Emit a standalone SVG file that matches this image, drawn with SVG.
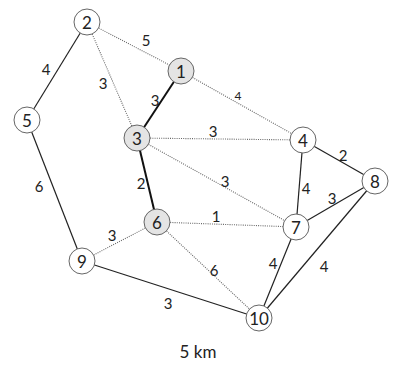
<svg xmlns="http://www.w3.org/2000/svg" width="398" height="372" viewBox="0 0 398 372">
<style>
.s{stroke:#222;stroke-width:1.2;fill:none}
.b{stroke:#111;stroke-width:2;fill:none}
.d{stroke:#666;stroke-width:1.1;stroke-dasharray:1 1.2;fill:none}
.n circle{fill:#fff;stroke:#666;stroke-width:1}
.g circle{fill:#e4e4e4}
text{font-family:Lato,"DejaVu Sans",sans-serif;fill:#222;text-anchor:middle;dominant-baseline:central}
.n text{font-size:17px}
.l{font-size:15px}
</style>
<rect width="398" height="372" fill="#fff"/>
<g id="connectors">
<line class="s" x1="87" y1="22" x2="27" y2="120"/>
<line class="s" x1="27" y1="120" x2="82" y2="261"/>
<line class="b" x1="181" y1="71" x2="137" y2="138"/>
<line class="b" x1="137" y1="138" x2="157" y2="222"/>
<line class="s" x1="82" y1="261" x2="259" y2="318"/>
<line class="s" x1="303" y1="140" x2="375" y2="181"/>
<line class="s" x1="303" y1="140" x2="296" y2="227"/>
<line class="s" x1="296" y1="227" x2="375" y2="181"/>
<line class="s" x1="375" y1="181" x2="259" y2="318"/>
<line class="s" x1="296" y1="227" x2="259" y2="318"/>
<line class="d" x1="87" y1="22" x2="181" y2="71"/>
<line class="d" x1="87" y1="22" x2="137" y2="138"/>
<line class="d" x1="181" y1="71" x2="303" y2="140"/>
<line class="d" x1="137" y1="138" x2="303" y2="140"/>
<line class="d" x1="137" y1="138" x2="296" y2="227"/>
<line class="d" x1="157" y1="222" x2="296" y2="227"/>
<line class="d" x1="157" y1="222" x2="82" y2="261"/>
<line class="d" x1="157" y1="222" x2="259" y2="318"/>
<text class="l" x="146" y="40">5</text>
<text class="l" x="46" y="69">4</text>
<text class="l" x="103" y="83">3</text>
<text class="l" x="155" y="100">3</text>
<text class="l" x="238" y="95" style="font-size:12px">4</text>
<text class="l" x="213" y="131">3</text>
<text class="l" x="225" y="181">3</text>
<text class="l" x="39" y="186">6</text>
<text class="l" x="141" y="183">2</text>
<text class="l" x="216" y="216">1</text>
<text class="l" x="112" y="235">3</text>
<text class="l" x="214" y="270">6</text>
<text class="l" x="168" y="303">3</text>
<text class="l" x="343" y="155">2</text>
<text class="l" x="306" y="188">4</text>
<text class="l" x="332" y="198">3</text>
<text class="l" x="273" y="263">4</text>
<text class="l" x="324" y="266">4</text>
</g>
<g id="n1" class="n g"><circle cx="181" cy="71" r="13"/><text x="181" y="71">1</text></g>
<g id="n2" class="n"><circle cx="87" cy="22" r="13"/><text x="87" y="22">2</text></g>
<g id="n3" class="n g"><circle cx="137" cy="138" r="13"/><text x="137" y="138">3</text></g>
<g id="n4" class="n"><circle cx="303" cy="140" r="13"/><text x="303" y="140">4</text></g>
<g id="n5" class="n"><circle cx="27" cy="120" r="13"/><text x="27" y="120">5</text></g>
<g id="n6" class="n g"><circle cx="157" cy="222" r="13"/><text x="157" y="222">6</text></g>
<g id="n7" class="n"><circle cx="296" cy="227" r="13"/><text x="296" y="227">7</text></g>
<g id="n8" class="n"><circle cx="375" cy="181" r="13"/><text x="375" y="181">8</text></g>
<g id="n9" class="n"><circle cx="82" cy="261" r="13"/><text x="82" y="261">9</text></g>
<g id="n10" class="n"><circle cx="259" cy="318" r="13"/><text x="259" y="318">10</text></g>
<text x="198" y="351" style="font-size:17px">5 km</text>
</svg>
